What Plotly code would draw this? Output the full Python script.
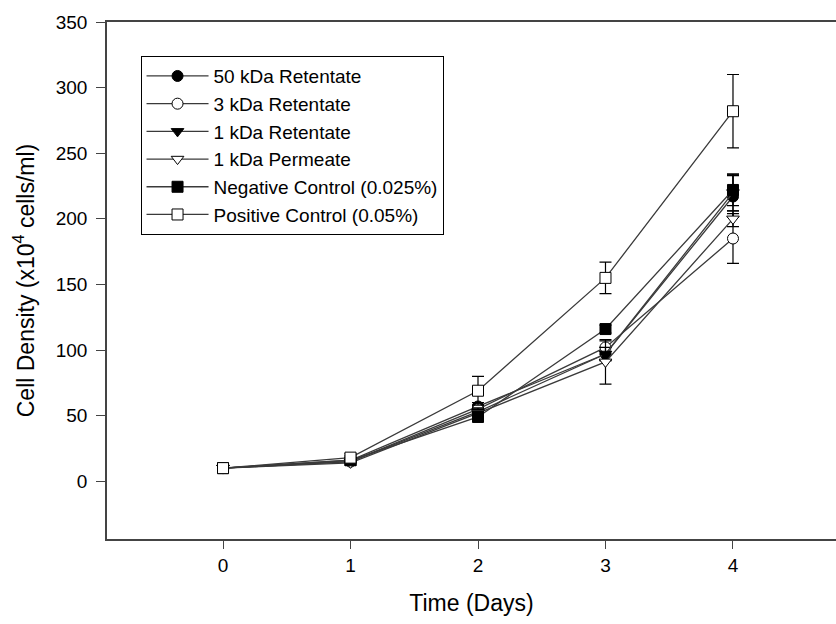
import plotly.graph_objects as go

days = [0, 1, 2, 3, 4]

series_names = [
    "50 kDa Retentate",
    "3 kDa Retentate",
    "1 kDa Retentate",
    "1 kDa Permeate",
    "Negative Control (0.025%)",
    "Positive Control (0.05%)",
]
retentate_50 = [10, 16, 57, 97, 217]
retentate_50_err = [1, 2, 3, 5, 16]
retentate_3 = [10, 15, 55, 102, 185]
retentate_3_err = [1, 2, 3, 5, 19]
retentate_1 = [10, 15, 53, 97, 220]
retentate_1_err = [1, 2, 3, 5, 14]
permeate_1 = [10, 14, 52, 91, 200]
permeate_1_err = [1, 2, 3, 17, 6]
negative_ctrl = [10, 16, 49, 116, 222]
negative_ctrl_err = [1, 2, 2, 3, 12]
positive_ctrl = [10, 18, 69, 155, 282]
positive_ctrl_err = [1, 3, 11, 12, 28]

values = [retentate_50, retentate_3, retentate_1, permeate_1, negative_ctrl, positive_ctrl]
errors = [retentate_50_err, retentate_3_err, retentate_1_err, permeate_1_err,
          negative_ctrl_err, positive_ctrl_err]
symbols = ["circle", "circle", "triangle-down", "triangle-down", "square", "square"]
fills = ["black", "white", "black", "white", "black", "white"]

FONT = "Liberation Sans, Arial, sans-serif"

fig = go.Figure()
for name, y, err, sym, fill in zip(series_names, values, errors, symbols, fills):
    fig.add_trace(go.Scatter(
        x=days, y=y, name=name, mode="lines+markers",
        line=dict(color="#3a3a3a", width=1.3),
        marker=dict(symbol=sym, size=11, color=fill,
                    line=dict(color="black", width=1)),
        error_y=dict(type="data", array=err, visible=True,
                     color="black", thickness=1.2, width=6),
    ))

fig.update_layout(
    width=836, height=624,
    margin=dict(l=107, r=0, t=22, b=85),
    paper_bgcolor="white", plot_bgcolor="white",
    font=dict(family=FONT, size=19, color="black"),
    showlegend=True,
    legend=dict(
        x=0.046, y=0.934, xanchor="left", yanchor="top",
        bordercolor="black", borderwidth=1, bgcolor="white",
        font=dict(family=FONT, size=19, color="black"),
        tracegroupgap=0, itemwidth=62,
    ),
)
fig.update_xaxes(
    range=[-0.91, 4.808], tickmode="array", tickvals=days,
    ticks="outside", ticklen=8, tickcolor="#444",
    showline=True, linecolor="#444", linewidth=1.5, mirror=True,
    showgrid=False, zeroline=False,
    tickfont=dict(family=FONT, size=19),
    title=dict(text="Time (Days)", font=dict(family=FONT, size=23), standoff=20),
)
fig.update_yaxes(
    range=[-44, 350], tickmode="array", tickvals=[0, 50, 100, 150, 200, 250, 300, 350],
    ticks="outside", ticklen=9, tickcolor="#444", ticklabelstandoff=5,
    showline=True, linecolor="#444", linewidth=1.5, mirror=False,
    showgrid=False, zeroline=False,
    tickfont=dict(family=FONT, size=19),
    title=dict(text="Cell Density (x10<sup>4</sup> cells/ml)",
               font=dict(family=FONT, size=23), standoff=15),
)

fig.write_html("out.html")
